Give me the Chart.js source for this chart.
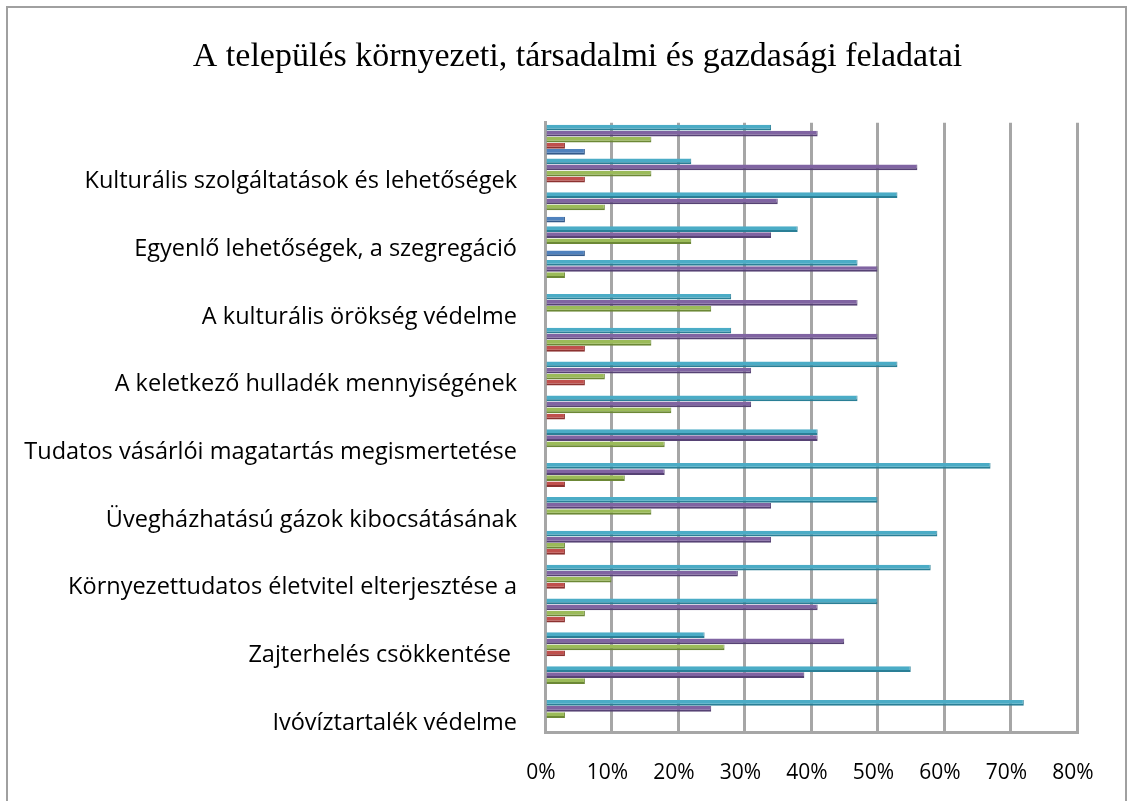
<!DOCTYPE html>
<html>
<head>
<meta charset="utf-8">
<script src="https://cdn.jsdelivr.net/npm/chart.js@4/dist/chart.umd.min.js"></script>
<style>
  html, body { margin: 0; padding: 0; background: #fff; }
  #frame {
    position: absolute; left: 6px; top: 6px; width: 1121px; height: 820px;
    border: 2px solid #a0a0a0; box-sizing: border-box;
  }
  #chart { position: absolute; left: 0; top: 0; }
</style>
</head>
<body>
<div id="frame"></div>
<canvas id="chart" width="1133" height="801"></canvas>
<script>
/* =============================================
   DATA — categories listed top to bottom
   ============================================= */
const categories = [
  '',
  'Kulturális szolgáltatások és lehetőségek',
  '',
  'Egyenlő lehetőségek, a szegregáció',
  '',
  'A kulturális örökség védelme',
  '',
  'A keletkező hulladék mennyiségének',
  '',
  'Tudatos vásárlói magatartás megismertetése',
  '',
  'Üvegházhatású gázok kibocsátásának',
  '',
  'Környezettudatos életvitel elterjesztése a',
  '',
  'Zajterhelés csökkentése ',
  '',
  'Ivóvíztartalék védelme'
];

// series in drawing order within each group (top → bottom)
const series5 = [34, 22, 53, 38, 47, 28, 28, 53, 47, 41, 67, 50, 59, 58, 50, 24, 55, 72];
const series4 = [41, 56, 35, 34, 50, 47, 50, 31, 31, 41, 18, 34, 34, 29, 41, 45, 39, 25];
const series3 = [16, 16, 9, 22, 3, 25, 16, 9, 19, 18, 12, 16, 3, 10, 6, 27, 6, 3];
const series2 = [3, 6, 0, 0, 0, 0, 6, 6, 3, 0, 3, 0, 3, 3, 3, 3, 0, 0];
const series1 = [6, 0, 3, 6, 0, 0, 0, 0, 0, 0, 0, 0, 0, 0, 0, 0, 0, 0];

const xTicks = [0, 10, 20, 30, 40, 50, 60, 70, 80];

/* =============================================
   CHART
   ============================================= */
// darker bottom/right edge stands in for the original's 3D bar shading
function barSet(label, data, fill, edge) {
  return {
    label,
    data,
    backgroundColor: fill,
    borderColor: edge,
    borderWidth: { top: 0, left: 0, right: 1, bottom: 2 },
    borderSkipped: false,
    categoryPercentage: 0.9,
    barPercentage: 0.94,
  };
}

const ctx = document.getElementById('chart').getContext('2d');
const gridGrey = '#a6a6a6';

new Chart(ctx, {
  type: 'bar',
  data: {
    labels: categories,
    datasets: [
      barSet('Sorozat5', series5, '#4bacc6', '#2a7f96'),
      barSet('Sorozat4', series4, '#8064a2', '#564274'),
      barSet('Sorozat3', series3, '#9bbb59', '#6c8836'),
      barSet('Sorozat2', series2, '#c0504d', '#8c3230'),
      barSet('Sorozat1', series1, '#4f81bd', '#335a8a'),
    ],
  },
  options: {
    indexAxis: 'y',
    responsive: false,
    animation: false,
    // left padding nudges the centred title to where it sits in the original
    layout: { padding: { left: 22, right: 0, top: 0, bottom: 0 } },
    plugins: {
      legend: { display: false },
      tooltip: { enabled: false },
      title: {
        display: true,
        text: 'A település környezeti, társadalmi és gazdasági feladatai',
        color: '#000',
        font: { family: 'Liberation Serif', size: 34, weight: 'normal', lineHeight: 1.2 },
        padding: { top: 37, bottom: 45 },
      },
    },
    scales: {
      x: {
        min: 0,
        max: 80,
        afterBuildTicks: scale => { scale.ticks = xTicks.map(v => ({ value: v })); },
        afterFit: scale => { scale.height = 69; },
        grid: { color: gridGrey, lineWidth: 3, drawTicks: false },
        border: { color: gridGrey, width: 3 },
        ticks: {
          color: '#000',
          padding: 28,
          labelOffset: -4,
          font: { family: 'Open Sans', size: 21 },
          callback: v => v + '%',
        },
      },
      y: {
        afterFit: scale => { scale.width = 523; },
        grid: { display: false },
        border: { color: gridGrey, width: 3 },
        ticks: {
          color: '#000',
          autoSkip: false,
          padding: 20,
          labelOffset: 8,
          font: { family: 'Open Sans', size: 23.5 },
        },
      },
      // empty right-hand strip so the plot ends at 80% where the original does
      yRight: {
        axis: 'y',
        position: 'right',
        afterFit: scale => { scale.width = 56; },
        grid: { display: false },
        border: { display: false },
        ticks: { display: false },
      },
    },
  },
});
</script>
</body>
</html>
